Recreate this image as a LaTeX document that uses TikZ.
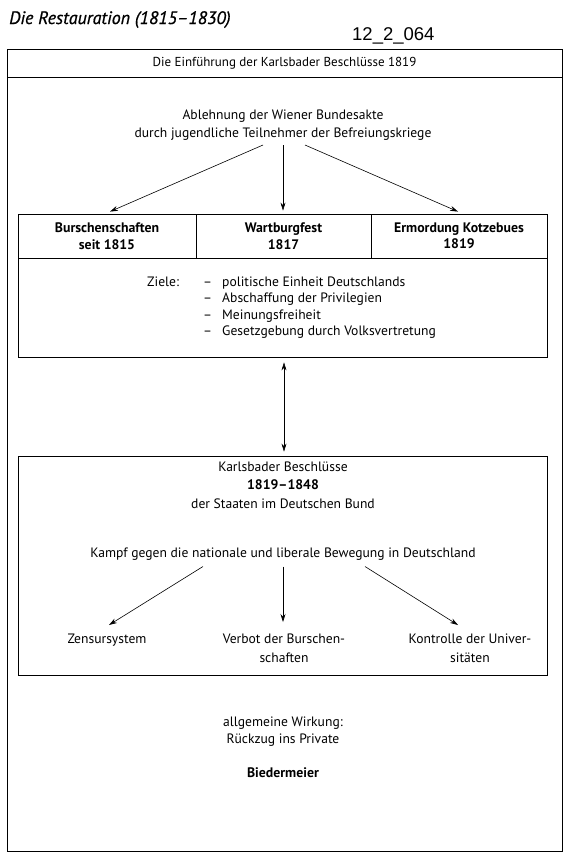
\documentclass[tikz,border=0pt]{standalone}
\usepackage{fontspec}
\setmainfont{PT Sans}
\newfontfamily\arialfont{Liberation Sans}
\newfontfamily\titlefont[FakeBold=0.8]{PT Sans}
\usetikzlibrary{arrows.meta,calc}
\begin{document}
\begin{tikzpicture}[x=1pt,y=-1pt,
  txt/.style={font=\fontsize{13.6}{18.5}\selectfont, align=center, inner sep=0pt},
  small/.style={font=\fontsize{13}{14}\selectfont, inner sep=0pt},
  arr/.style={-{Stealth[length=8pt,width=5pt]}, line width=0.6pt},
  darr/.style={{Stealth[length=8pt,width=5pt]}-{Stealth[length=8pt,width=5pt]}, line width=0.6pt},
  box/.style={draw, line width=0.8pt, inner sep=0pt},
  cell/.style={box, minimum height=44pt, align=center, font=\bfseries\fontsize{13.8}{16.5}\selectfont}]
\useasboundingbox (0,0) rectangle (570,865);
% headings
\node[anchor=base west, inner sep=0pt, font=\titlefont\itshape\fontsize{18}{20}\selectfont] (title) at (9,24) {Die Restauration (1815–1830)};
\node[anchor=base west, inner sep=0pt, font=\arialfont\fontsize{18.5}{20}\selectfont] (code) at (352,40) {12\_2\_064};
% frame
\node[box, minimum width=555pt, minimum height=802pt] (frame) at (284.5,450) {};
\node[box, minimum width=555pt, minimum height=28pt, small] (hdr) at (284.5,63) {Die Einführung der Karlsbader Beschlüsse 1819};
% top source
\node[txt, anchor=base] (abl) at (283,119) {Ablehnung der Wiener Bundesakte};
\node[txt, anchor=base] (abl2) at (283,137) {durch jugendliche Teilnehmer der Befreiungskriege};
% box 1
\node[cell, minimum width=178pt] (c1) at (107,236) {Burschenschaften\\seit 1815};
\node[cell, minimum width=175pt] (c2) at (283.5,236) {Wartburgfest\\1817};
\node[cell, minimum width=176pt] (c3) at (459,236) {Ermordung Kotzebues\\1819};
\node[box, minimum width=529pt, minimum height=99pt] (goals) at (282.5,307.5) {};
\draw[arr] ($(abl2.base)+(-20,8)$) -- ($(c1.north)+(3,-2)$);
\draw[arr] ($(abl2.base)+(0,8)$) -- ($(c2.north)+(-0.5,-3)$);
\draw[arr] ($(abl2.base)+(22,8)$) -- ($(c3.north)+(-1,-2)$);
\node[txt, anchor=base west] (zl) at (147,286) {Ziele:};
\foreach \i/\t/\y in {1/politische Einheit Deutschlands/286, 2/Abschaffung der Privilegien/302.5, 3/Meinungsfreiheit/319, 4/Gesetzgebung durch Volksvertretung/335.5}{
  \node[txt, anchor=base west] (d\i) at (203,\y) {–};
  \node[txt, anchor=base west] (g\i) at (222,\y) {\t};
}
% box 2
\node[box, minimum width=529pt, minimum height=219pt] (kb) at (282.5,565.5) {};
\draw[darr] ($(goals.south)+(1.5,5)$) -- ($(kb.north)+(1.5,-4)$);
\node[txt, anchor=base] (kb1) at (283,471.5) {Karlsbader Beschlüsse};
\node[txt, anchor=base, font=\bfseries\fontsize{13.8}{16}\selectfont] (kb2) at (283,489.5) {1819–1848};
\node[txt, anchor=base] (kb3) at (283,508) {der Staaten im Deutschen Bund};
\node[txt, anchor=base] (kampf) at (283,557.5) {Kampf gegen die nationale und liberale Bewegung in Deutschland};
\node[txt, anchor=north] (m1) at (107,634) {Zensursystem};
\node[txt, anchor=north] (m2) at (284,634) {Verbot der Burschen-\\schaften};
\node[txt, anchor=north] (m3) at (470,634) {Kontrolle der Univer-\\sitäten};
\draw[arr] ($(kampf.base)+(-80,9)$) -- ($(m1.north)+(2,-9)$);
\draw[arr] ($(kampf.base)+(0,9)$) -- ($(m2.north)+(-1,-12)$);
\draw[arr] ($(kampf.base)+(82,9)$) -- ($(m3.north)+(-12,-9)$);
% bottom
\node[txt, anchor=base] (w1) at (283,726.5) {allgemeine Wirkung:};
\node[txt, anchor=base] (w2) at (283,743.5) {Rückzug ins Private};
\node[txt, anchor=base, font=\bfseries\fontsize{13.8}{16}\selectfont] (bm) at (283,777.5) {Biedermeier};
\end{tikzpicture}
\end{document}
